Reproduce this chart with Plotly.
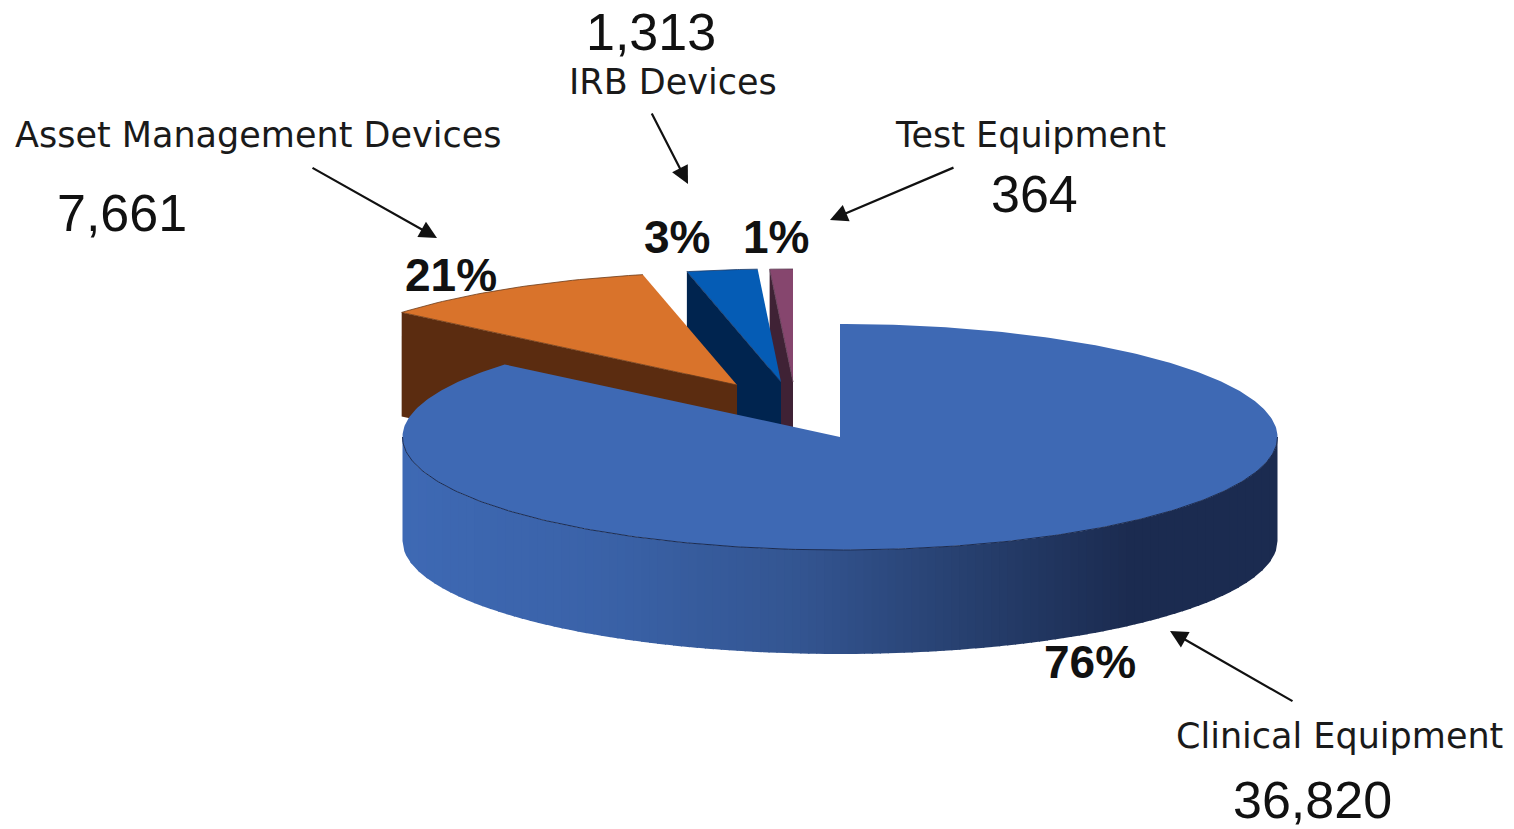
import numpy as np
import plotly.graph_objects as go

categories = ["Clinical Equipment", "Asset Management Devices", "IRB Devices", "Test Equipment"]
device_counts = ["36,820", "7,661", "1,313", "364"]
percent_labels = ["76%", "21%", "3%", "1%"]
# Share of the circle each slice actually occupies in the drawing
drawn_share = [86.1, 10.45, 2.6, 0.85]

W, H = 1514, 829
RX, RY, DEPTH = 437.5, 113, 104
CENTER = (840, 437)
APEX = [(840, 437), (737, 385), (781, 382), (793, 382)]
TOP_COL = ["#3e69b4", "#d9732b", "#055cb5", "#86466e"]
WALL_COL = ["#3e69b4", "#5b2c10", "#00244f", "#3f2235"]
EDGE_COL = ["#1b2b50", "#6b3a18", "#1d3a66", "#5a3a50"]

edges = np.concatenate([[0], np.cumsum(drawn_share)]) / sum(drawn_share) * 360


def arc(cx, cy, a0, a1, n=160):
    t = np.radians(np.linspace(a0, a1, n))
    return cx + RX * np.sin(t), cy - RY * np.cos(t)


def poly(x, y, color, line=None, lw=0.0):
    return go.Scatter(x=list(x), y=list(y), mode="lines", fill="toself", fillcolor=color,
                      line=dict(color=line or color, width=lw), hoverinfo="skip", showlegend=False)


fig = go.Figure()

# exploded small slices, back to front: walls then tops
for i in [3, 2, 1]:
    ax_, ay_ = APEX[i]
    ex, ey = arc(ax_, ay_, edges[i], edges[i + 1], 40)
    fig.add_trace(poly([ex[0], ax_, ax_, ex[0]], [ey[0], ay_, ay_ + DEPTH, ey[0] + DEPTH], WALL_COL[i]))
    fig.add_trace(poly(np.r_[ax_, ex], np.r_[ay_, ey], TOP_COL[i], EDGE_COL[i], 0.8))


# front wall of the big slice with a horizontal shading
def shade(x):
    stops_x = [403, 600, 800, 950, 1130, 1278]
    r = np.interp(x, stops_x, [0x3e, 0x3a, 0x33, 0x28, 0x1b, 0x1b])
    g = np.interp(x, stops_x, [0x69, 0x62, 0x55, 0x42, 0x2b, 0x2b])
    b = np.interp(x, stops_x, [0xb4, 0xa8, 0x91, 0x72, 0x50, 0x50])
    return f"rgb({r:.0f},{g:.0f},{b:.0f})"


n_bands = 110
xs = np.linspace(CENTER[0] - RX, CENTER[0] + RX, n_bands + 1)
for k in range(n_bands):
    xa = np.linspace(xs[k], min(xs[k + 1] + 1.2, CENTER[0] + RX), 6)
    u = np.clip((xa - CENTER[0]) / RX, -1, 1)
    half = RY * np.sqrt(1 - u ** 2)
    top = CENTER[1] + half
    bot = top + DEPTH
    fig.add_trace(poly(np.r_[xa, xa[::-1]], np.r_[top, bot[::-1]], shade((xs[k] + xs[k + 1]) / 2)))

# top of the big slice
mx, my = arc(*CENTER, edges[0], edges[1], 400)
fig.add_trace(poly(np.r_[CENTER[0], mx], np.r_[CENTER[1], my], TOP_COL[0]))
fx, fy = arc(*CENTER, 90, 270, 200)
fig.add_trace(go.Scatter(x=fx, y=fy, mode="lines", line=dict(color="#1b2b50", width=1),
                         hoverinfo="skip", showlegend=False))

NAME_POS = [(1339, 736), (258, 135), (673, 82), (1030, 135)]
COUNT_POS = [(1312, 800), (122, 213), (651, 32), (1034, 194)]
PCT_POS = [(1090, 662), (451, 275), (677, 237), (776, 237)]
ARROWS = [((1294, 702), (1170, 631)), ((311, 167), (437, 238)), ((651, 112), (688, 184)), ((955, 167), (830, 220))]

ann = []
for i in range(4):
    ann.append(dict(x=NAME_POS[i][0], y=NAME_POS[i][1], text=categories[i], showarrow=False,
                    font=dict(family="DejaVu Sans", size=35, color="#1a1a1a")))
    ann.append(dict(x=COUNT_POS[i][0], y=COUNT_POS[i][1], text=device_counts[i], showarrow=False,
                    font=dict(family="Liberation Sans", size=52, color="#111111")))
    ann.append(dict(x=PCT_POS[i][0], y=PCT_POS[i][1], text=f"<b>{percent_labels[i]}</b>", showarrow=False,
                    font=dict(family="Liberation Sans", size=46, color="#111111")))
    (x0, y0), (x1, y1) = ARROWS[i]
    ann.append(dict(x=x1, y=y1, ax=x0, ay=y0, xref="x", yref="y", axref="x", ayref="y", text="",
                    showarrow=True, arrowhead=2, arrowsize=1.6, arrowwidth=2.2, arrowcolor="#111111"))

fig.update_layout(width=W, height=H, margin=dict(l=0, r=0, t=0, b=0), paper_bgcolor="white", plot_bgcolor="white",
                  xaxis=dict(range=[0, W], visible=False, fixedrange=True),
                  yaxis=dict(range=[H, 0], visible=False, fixedrange=True),
                  annotations=ann, showlegend=False)
fig.write_html("out.html", post_script="document.body.style.margin='0';document.body.style.overflow='hidden';",
               config=dict(displayModeBar=False))
